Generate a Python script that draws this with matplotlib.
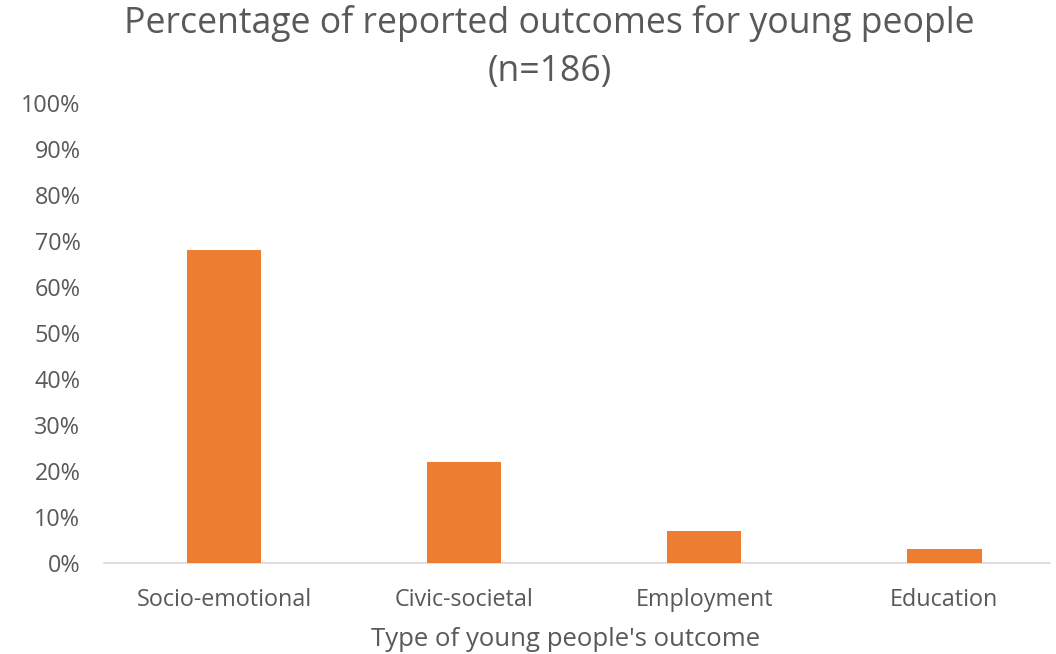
import matplotlib
matplotlib.use('Agg')
import matplotlib.pyplot as plt
from matplotlib.ticker import FuncFormatter

# data
categories = ['Socio-emotional', 'Civic-societal', 'Employment', 'Education']
values = [68, 22, 7, 3]
yticks = [0, 10, 20, 30, 40, 50, 60, 70, 80, 90, 100]

plt.rcParams['font.family'] = ['Open Sans', 'DejaVu Sans']
txt = '#595959'

fig = plt.figure(figsize=(10.56, 6.54), dpi=100)
ax = fig.add_axes([104/1056, 1 - 563/654, (1050-104)/1056, (563-103)/654])

ax.bar(range(len(categories)), values, width=0.31, color='#ED7D31', zorder=3)

ax.set_xlim(-0.5, 3.44)
ax.set_ylim(0, 100)
ax.set_yticks(yticks)
ax.yaxis.set_major_formatter(FuncFormatter(lambda v, p: '%d%%' % v))
ax.set_xticks(range(len(categories)))
ax.set_xticklabels(categories)

for s in ['top', 'right', 'left']:
    ax.spines[s].set_visible(False)
ax.spines['bottom'].set_color('#D9D9D9')
ax.spines['bottom'].set_linewidth(1.2)
ax.tick_params(axis='both', length=0, colors=txt, labelsize=16.8)
ax.tick_params(axis='y', pad=17)
ax.tick_params(axis='x', pad=18)

# axis title centred on the plot area, as in the original
fig.text(566/1056, 1 - 640/654, "Type of young people's outcome",
         ha='center', va='center', fontsize=18.5, color=txt)

fig.text(549/1056, 1 - 24/654, 'Percentage of reported outcomes for young people',
         ha='center', va='center', fontsize=25.7, color=txt)
fig.text(550/1056, 1 - 72/654, '(n=186)', ha='center', va='center', fontsize=25.7, color=txt)

fig.savefig('out.png', dpi=100)
